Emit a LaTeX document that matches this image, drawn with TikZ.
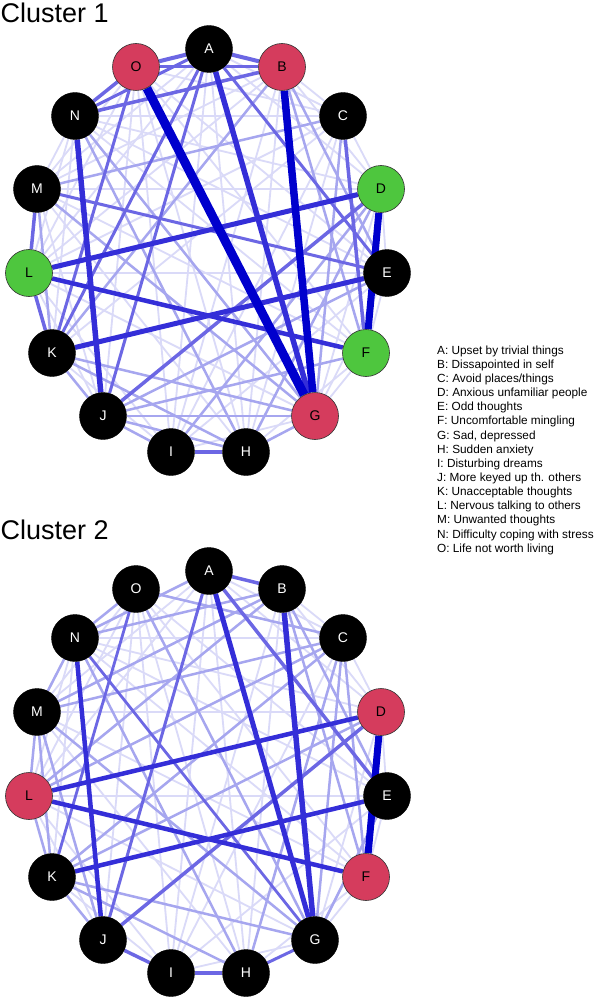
\documentclass[tikz,border=0pt]{standalone}
\usepackage{fontspec}
\setmainfont{Liberation Sans}
\usetikzlibrary{backgrounds}
\definecolor{nred}{RGB}{213,60,93}
\definecolor{ngreen}{RGB}{78,198,62}
\definecolor{eA}{RGB}{0,0,205}
\definecolor{eB}{RGB}{52,46,216}
\definecolor{eC}{RGB}{108,103,228}
\definecolor{eD}{RGB}{166,166,239}
\definecolor{eE}{RGB}{218,218,248}
\tikzset{
  vtx/.style={circle, minimum size=47pt, inner sep=0pt, font=\fontsize{14}{14}\selectfont},
  blk/.style={vtx, fill=black, draw=black, text=white},
  rnode/.style={vtx, fill=nred, draw=black!80, line width=0.6pt, text=black},
  gnode/.style={vtx, fill=ngreen, draw=black!80, line width=0.6pt, text=black},
  title/.style={anchor=base west, inner sep=0pt, font=\fontsize{27}{27}\selectfont},
  legtext/.style={anchor=base west, inner sep=0pt, font=\fontsize{11.8}{14}\selectfont}
}
\begin{document}
\begin{tikzpicture}[x=1pt,y=-1pt]
\useasboundingbox (0,0) rectangle (596,1000);

% titles
\node[title] (t1) at (0.5,23) {Cluster 1};
\node[title] (t2) at (0.5,539) {Cluster 2};

% cluster 1 nodes
\foreach \n/\x/\y/\s in {A/209/49/blk, B/282/67/rnode, C/343/116/blk, D/381/189/gnode,
  E/387/273/blk, F/366/353/gnode, G/315/416/rnode, H/246/452/blk, I/171/452/blk,
  J/103/416/blk, K/52/353/blk, L/29/273/gnode, M/37/189/blk, N/75/116/blk, O/136/67/rnode}
  \node[\s] (c1\n) at (\x,\y) {\n};

% cluster 2 nodes
\foreach \n/\x/\y/\s in {A/209/571/blk, B/282/589/blk, C/343/638/blk, D/381/712/rnode,
  E/387/796/blk, F/366/877/rnode, G/315/940/blk, H/246/973/blk, I/171/973/blk,
  J/103/940/blk, K/52/877/blk, L/29/796/rnode, M/37/712/blk, N/75/638/blk, O/136/589/blk}
  \node[\s] (c2\n) at (\x,\y) {\n};

% legend
\foreach \t [count=\i from 0] in {A: Upset by trivial things, B: Dissapointed in self,
  C: Avoid places/things, D: Anxious unfamiliar people, E: Odd thoughts,
  F: Uncomfortable mingling, {G: Sad, depressed}, H: Sudden anxiety, I: Disturbing dreams,
  J: More keyed up th. others, K: Unacceptable thoughts, L: Nervous talking to others,
  M: Unwanted thoughts, N: Difficulty coping with stress, O: Life not worth living}
  \node[legtext] (lg\i) at (437,354.2+14.14*\i) {\t};

\begin{pgfonlayer}{background}
\fill[white] (0,0) rectangle (596,1000);
% ---------- faint edges, both clusters ----------
\foreach \p in {1,2}{
\foreach \a/\b in {N/C, M/D, L/E, C/D, E/F, F/G, A/C, B/C, M/N, L/N, K/N, L/J, M/J, O/J, O/I,
  A/I, B/I, C/H, C/K, C/I, D/G, E/G, B/D, A/D, O/C, O/M, L/I, K/I, M/H, N/F, L/G, O/H,
  B/H, A/H, E/I, D/E, B/M, B/L, O/L, N/E, N/D, M/F, G/I, H/F, A/M, A/L, O/E, O/F, C/L}
  \draw[eE, line width=1.8pt] (c\p\a) -- (c\p\b);
}
% ---------- cluster 1 edges ----------
\foreach \a/\b in {B/K, J/H, J/I, K/G, J/G, M/K, N/G, B/E, C/M, H/G, K/H, E/J, D/I, N/H,
  C/G, B/F, M/G, K/J, F/J, D/H}
  \draw[eD, line width=2.5pt] (c1\a) -- (c1\b);
\foreach \a/\b/\w in {O/A/4, A/B/4, N/B/3.5, N/O/3.5, O/B/3, M/L/3.5, L/K/3.5, J/D/3.5,
  C/F/3.5, O/K/3, A/K/3, A/J/3, M/E/3, A/E/3, I/H/4, N/A/3}
  \draw[eC, line width=\w pt] (c1\a) -- (c1\b);
\foreach \a/\b/\w in {A/G/5.5, N/J/5.5, L/D/5, K/E/5, L/F/4.5}
  \draw[eB, line width=\w pt] (c1\a) -- (c1\b);
\foreach \a/\b/\w in {B/G/7.5, D/F/7, O/G/9}
  \draw[eA, line width=\w pt] (c1\a) -- (c1\b);
% ---------- cluster 2 edges ----------
\foreach \a/\b in {O/G, C/L, C/F, N/O, M/L, M/K, K/J, C/K, M/J, K/G, K/H, B/L, N/A, N/B,
  C/G, C/H, M/C, L/K, D/K, B/E, B/F, E/G, N/M, O/C, B/M, N/H, M/G}
  \draw[eD, line width=2.5pt] (c2\a) -- (c2\b);
\foreach \a/\b/\w in {A/E/3.5, A/B/3.5, J/D/3.5, A/J/3, J/I/3.5, I/H/3.5, H/G/3, N/G/2.8, O/K/2.8}
  \draw[eC, line width=\w pt] (c2\a) -- (c2\b);
\foreach \a/\b/\w in {A/G/5, B/G/5.5, N/J/4.5, L/D/4.5, K/E/4.5, L/F/4.5}
  \draw[eB, line width=\w pt] (c2\a) -- (c2\b);
\foreach \a/\b/\w in {D/F/7}
  \draw[eA, line width=\w pt] (c2\a) -- (c2\b);
\end{pgfonlayer}
\end{tikzpicture}
\end{document}
